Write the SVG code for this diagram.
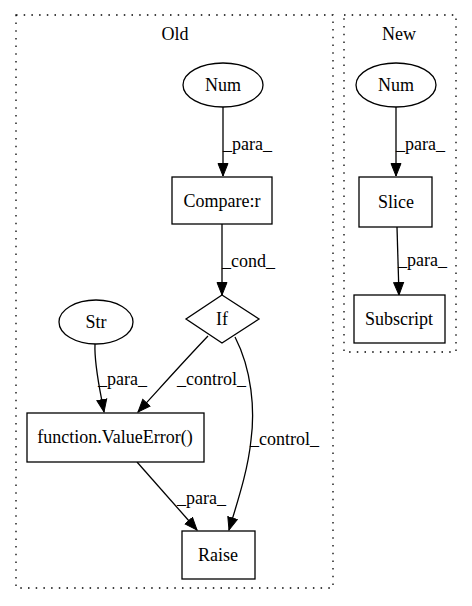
<svg xmlns="http://www.w3.org/2000/svg" width="472" height="606" viewBox="0 0 472 606">
  <style>
    text { font-family: "Liberation Serif", "Times New Roman", serif; font-size: 18px; fill: #000; }
    .c { text-anchor: middle; }
    .cluster { fill: none; stroke: #000; stroke-width: 1.3; stroke-dasharray: 1.5 6.2; }
    .node { fill: #fff; stroke: #000; stroke-width: 1.3; }
    .edge { fill: none; stroke: #000; stroke-width: 1.3; marker-end: url(#arrow); }
  </style>
  <defs>
    <marker id="arrow" markerUnits="userSpaceOnUse" markerWidth="14" markerHeight="12" refX="13" refY="6" orient="auto">
      <polygon points="0.5,1 13,6 0.5,11" fill="#000" stroke="#000" stroke-width="1"/>
    </marker>
  </defs>
  <rect width="472" height="606" fill="#fff"/>

  <!-- clusters -->
  <g id="cluster_old">
    <rect class="cluster" x="16" y="15" width="317" height="573"/>
    <text class="c" x="175" y="40">Old</text>
  </g>
  <g id="cluster_new">
    <rect class="cluster" x="344" y="15" width="112" height="337"/>
    <text class="c" x="399" y="40">New</text>
  </g>

  <!-- connectors -->
  <g id="edges">
    <path class="edge" d="M223,107 L223,176"/>
    <text x="223" y="150">_para_</text>
    <path class="edge" d="M222,224 L222,295"/>
    <text x="222" y="267">_cond_</text>
    <path class="edge" d="M95,344 C94,365 100,390 104,412"/>
    <text x="98" y="385">_para_</text>
    <path class="edge" d="M208,336 C185,360 160,388 138,412"/>
    <text x="177" y="385">_control_</text>
    <path class="edge" d="M235,337 C252,370 255,410 251,440 C248,470 238,500 229,530"/>
    <text x="250" y="445">_control_</text>
    <path class="edge" d="M137,462 L197,530"/>
    <text x="177" y="504">_para_</text>
    <path class="edge" d="M396,107 L396,176"/>
    <text x="396" y="150">_para_</text>
    <path class="edge" d="M397,227 L399,295"/>
    <text x="398" y="266">_para_</text>
  </g>

  <!-- Old nodes -->
  <g id="old_num">
    <ellipse class="node" cx="223" cy="85" rx="40" ry="22"/>
    <text class="c" x="223" y="91">Num</text>
  </g>
  <g id="old_compare">
    <rect class="node" x="172" y="177" width="100" height="47"/>
    <text class="c" x="222" y="207">Compare:r</text>
  </g>
  <g id="old_if">
    <polygon class="node" points="222,295 259,319 222,343 186,319"/>
    <text class="c" x="222" y="325">If</text>
  </g>
  <g id="old_str">
    <ellipse class="node" cx="96" cy="322" rx="37" ry="22"/>
    <text class="c" x="96" y="328">Str</text>
  </g>
  <g id="old_valueerror">
    <rect class="node" x="27" y="413" width="177" height="49"/>
    <text class="c" x="115" y="443">function.ValueError()</text>
  </g>
  <g id="old_raise">
    <rect class="node" x="182" y="531" width="73" height="48"/>
    <text class="c" x="218" y="561">Raise</text>
  </g>

  <!-- New nodes -->
  <g id="new_num">
    <ellipse class="node" cx="396" cy="85" rx="40" ry="22"/>
    <text class="c" x="396" y="91">Num</text>
  </g>
  <g id="new_slice">
    <rect class="node" x="359" y="177" width="73" height="50"/>
    <text class="c" x="396" y="208">Slice</text>
  </g>
  <g id="new_subscript">
    <rect class="node" x="354" y="295" width="91" height="48"/>
    <text class="c" x="399" y="325">Subscript</text>
  </g>
</svg>
